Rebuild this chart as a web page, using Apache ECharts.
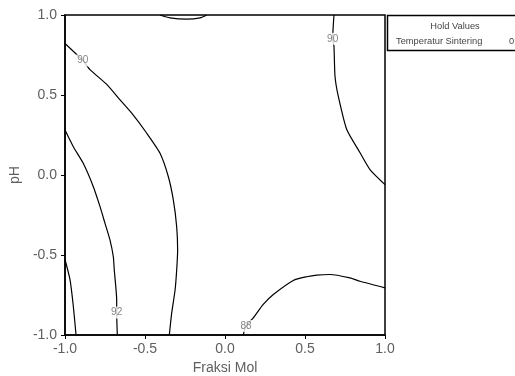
<!DOCTYPE html>
<html>
<head>
<meta charset="utf-8">
<script src="https://cdn.jsdelivr.net/npm/echarts@6/dist/echarts.min.js"></script>
<style>
  html, body { margin: 0; padding: 0; background: #fff; }
  #chart { width: 515px; height: 376px; }
</style>
</head>
<body>
<div id="chart"></div>
<script>
// Axis ticks
const xTicks = [-1.0, -0.5, 0.0, 0.5, 1.0];
const yTicks = [-1.0, -0.5, 0.0, 0.5, 1.0];

// Contour lines of the fitted response (x = Fraksi Mol, y = pH)
const contourTopArc = [[-0.406, 1.0], [-0.344, 0.982], [-0.239, 0.974], [-0.156, 0.982], [-0.114, 1.0]];
const contour90Left = [
  [-1.0, 0.822], [-0.889, 0.716], [-0.844, 0.659], [-0.739, 0.566], [-0.656, 0.469],
  [-0.583, 0.386], [-0.489, 0.261], [-0.406, 0.136], [-0.354, -0.011], [-0.323, -0.156],
  [-0.302, -0.323], [-0.296, -0.469], [-0.302, -0.594], [-0.312, -0.719], [-0.333, -0.862],
  [-0.348, -1.0]
];
const contour92 = [
  [-1.0, 0.281], [-0.948, 0.177], [-0.886, 0.073], [-0.823, -0.073], [-0.781, -0.198],
  [-0.75, -0.302], [-0.719, -0.406], [-0.698, -0.511], [-0.692, -0.594], [-0.677, -0.781],
  [-0.677, -0.86], [-0.673, -1.0]
];
const contourLeftEdge = [[-1.0, -0.528], [-0.969, -0.653], [-0.948, -0.82], [-0.931, -1.0]];
const contour90Right = [
  [0.681, 1.0], [0.673, 0.851], [0.681, 0.805], [0.6875, 0.6175], [0.708, 0.4925],
  [0.761, 0.284], [0.844, 0.139], [0.906, 0.034], [1.0, -0.06]
];
const contour88 = [
  [0.114, -1.0], [0.131, -0.944], [0.177, -0.8925], [0.239, -0.809], [0.302, -0.747],
  [0.427, -0.659], [0.511, -0.636], [0.573, -0.626], [0.656, -0.622], [0.781, -0.643],
  [0.844, -0.664], [1.0, -0.705]
];

// Contour level labels and where they sit on their lines
const labelLevels = [90, 92, 88, 90];
const labelPoints = [[-0.889, 0.716], [-0.677, -0.86], [0.131, -0.944], [0.673, 0.851]];

// Hold values box
const holdTitle = 'Hold Values';
const holdName = 'Temperatur Sintering';
const holdValue = '0';

const FONT = '"Liberation Sans", Arial, sans-serif';

function contourSeries(name, data) {
  return {
    name: name,
    type: 'line',
    data: data,
    showSymbol: false,
    symbol: 'none',
    smooth: 0.2,
    silent: true,
    lineStyle: { color: '#000', width: 1.2 },
    z: 2
  };
}

const chart = echarts.init(document.getElementById('chart'), null, { renderer: 'canvas' });

chart.setOption({
  animation: false,
  backgroundColor: '#fff',
  grid: {
    left: 65, top: 15, width: 320, height: 320,
    outerBoundsMode: 'none', containLabel: false,
    show: true, borderColor: '#000', borderWidth: 1.5, backgroundColor: 'transparent'
  },
  xAxis: {
    type: 'value', min: -1, max: 1, interval: 0.5,
    name: 'Fraksi Mol', nameLocation: 'middle', nameGap: 25,
    nameTextStyle: { fontFamily: FONT, fontSize: 14, color: '#606060' },
    axisLine: { show: true, onZero: false, lineStyle: { color: '#000', width: 1.5 } },
    axisTick: { show: true, length: 4, lineStyle: { color: '#000', width: 1 } },
    axisLabel: {
      fontFamily: FONT, fontSize: 14, color: '#606060', margin: 7,
      formatter: v => xTicks.includes(+v.toFixed(1)) ? v.toFixed(1) : ''
    },
    splitLine: { show: false }
  },
  yAxis: {
    type: 'value', min: -1, max: 1, interval: 0.5,
    name: 'pH', nameLocation: 'middle', nameGap: 43, nameRotate: 90,
    nameTextStyle: { fontFamily: FONT, fontSize: 14, color: '#606060' },
    axisLine: { show: true, onZero: false, lineStyle: { color: '#000', width: 1.5 } },
    axisTick: { show: true, length: 4, lineStyle: { color: '#000', width: 1 } },
    axisLabel: {
      fontFamily: FONT, fontSize: 14, color: '#606060', margin: 8,
      formatter: v => yTicks.includes(+v.toFixed(1)) ? v.toFixed(1) : ''
    },
    splitLine: { show: false }
  },
  series: [
    contourSeries('top', contourTopArc),
    contourSeries('90a', contour90Left),
    contourSeries('92', contour92),
    contourSeries('edge', contourLeftEdge),
    contourSeries('90b', contour90Right),
    contourSeries('88', contour88),
    {
      name: 'levels',
      type: 'scatter',
      silent: true,
      symbolSize: 0,
      z: 5,
      data: labelPoints.map((p, i) => ({ value: p, level: labelLevels[i] })),
      label: {
        show: true,
        position: 'inside',
        formatter: params => String(params.data.level),
        fontFamily: FONT,
        fontSize: 10,
        color: '#666',
        backgroundColor: '#fff',
        padding: [1, 1]
      }
    }
  ],
  graphic: [
    {
      type: 'rect',
      shape: { x: 387.5, y: 15.5, width: 140, height: 35 },
      style: { fill: '#fff', stroke: '#000', lineWidth: 1.5 }
    },
    {
      type: 'text',
      x: 455, y: 26,
      style: { text: holdTitle, font: '9.3px ' + FONT, fill: '#444', align: 'center', verticalAlign: 'middle' }
    },
    {
      type: 'text',
      x: 396, y: 41.5,
      style: { text: holdName, font: '9.3px ' + FONT, fill: '#444', align: 'left', verticalAlign: 'middle' }
    },
    {
      type: 'text',
      x: 509, y: 41.5,
      style: { text: holdValue, font: '9.3px ' + FONT, fill: '#444', align: 'left', verticalAlign: 'middle' }
    }
  ]
});
</script>
</body>
</html>
